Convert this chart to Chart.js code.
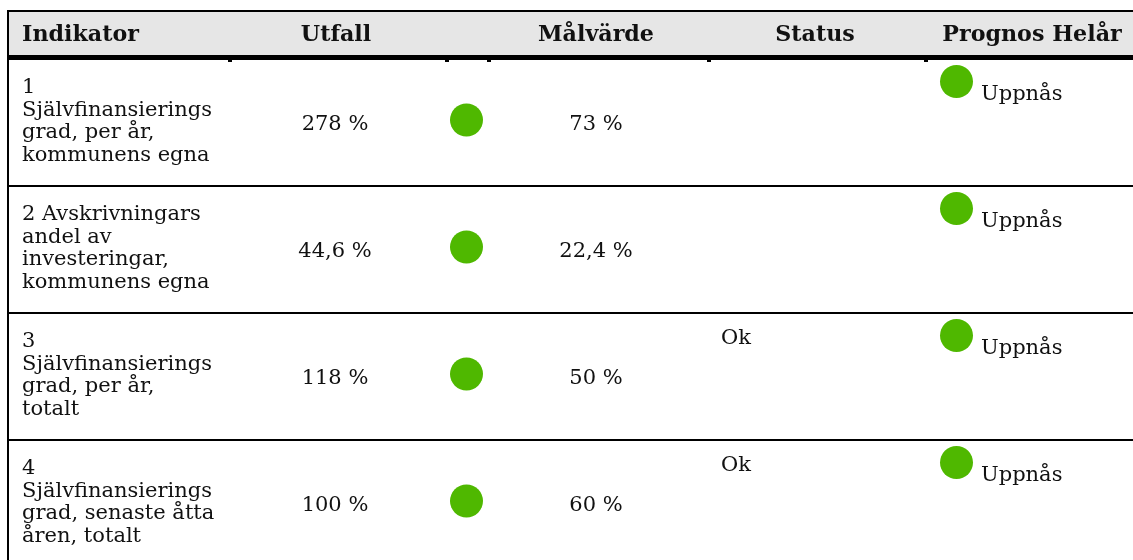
<!DOCTYPE html>
<html>
<head>
<meta charset="utf-8">
<script src="https://cdn.jsdelivr.net/npm/chart.js@4"></script>
<style>
html,body{margin:0;padding:0;background:#fff;overflow:hidden;}
canvas{display:block;}
</style>
</head>
<body>
<canvas id="c" width="1133" height="560"></canvas>
<script>
// ---- data ----
const headers = ['Indikator', 'Utfall', 'Målvärde', 'Status', 'Prognos Helår'];
const indicatorLines = [
  ['1', 'Självfinansierings', 'grad, per år,', 'kommunens egna'],
  ['2 Avskrivningars', 'andel av', 'investeringar,', 'kommunens egna'],
  ['3', 'Självfinansierings', 'grad, per år,', 'totalt'],
  ['4', 'Självfinansierings', 'grad, senaste åtta', 'åren, totalt']
];
const utfall = ['278 %', '44,6 %', '118 %', '100 %'];
const utfallStatus = ['green', 'green', 'green', 'green'];
const malvarde = ['73 %', '22,4 %', '50 %', '60 %'];
const statusText = ['', '', 'Ok', 'Ok'];
const prognosStatus = ['green', 'green', 'green', 'green'];
const prognosText = ['Uppnås', 'Uppnås', 'Uppnås', 'Uppnås'];

// ---- layout (styles / positions) ----
const W = 1133, H = 560;
const HEADER_TOP = 10, HEADER_BOTTOM = 59, ROW_H = 127;
const COL = { left: 7, indText: 22, utfallC: 335, dotC: 466.5, malC: 596, statusL: 721, progDot: 956.5, progText: 981 };
const HEAD_X = [22, 336, 596, 815, 1032];
const STUBS = [228, 445, 487, 707, 924];
const GREEN = { green: '#4fb800' };
const INK = '#111111';
const FONT = '"DejaVu Serif", Georgia, serif';

function fitSize(text, target, weight) {
  const cv = document.createElement('canvas').getContext('2d');
  cv.font = weight + ' 100px ' + FONT;
  return 100 * target / cv.measureText(text).width;
}
const BODY_SIZE = fitSize('Självfinansierings', 190, 'normal');
const HEAD_SIZE = fitSize('Målvärde', 116, 'bold');

const rows = indicatorLines.map((_, i) => i);
const dotData = rows.map(i => ({ x: COL.dotC, y: i + 0.5 - 2.5 / ROW_H }));
const progData = rows.map(i => ({ x: COL.progDot, y: i + 22.5 / ROW_H }));

const tablePlugin = {
  id: 'table',
  beforeDatasetsDraw(chart) {
    const ctx = chart.ctx;
    const ys = chart.scales.y;
    ctx.save();
    // header
    ctx.fillStyle = '#e6e6e6';
    ctx.fillRect(COL.left, HEADER_TOP, W - COL.left, HEADER_BOTTOM - HEADER_TOP);
    ctx.fillStyle = '#000';
    ctx.fillRect(COL.left, HEADER_TOP, W - COL.left, 2);
    ctx.fillRect(COL.left, 55, W - COL.left, 5);
    ctx.fillRect(COL.left, HEADER_TOP, 2, H - HEADER_TOP);
    STUBS.forEach(x => ctx.fillRect(x, 60, 4, 2));
    // row separators
    for (let i = 1; i < rows.length; i++) {
      const y = ys.getPixelForValue(i);
      ctx.fillRect(COL.left, y - 1, W - COL.left, 2);
    }
    // header text
    ctx.fillStyle = INK;
    ctx.font = 'bold ' + HEAD_SIZE + 'px ' + FONT;
    ctx.textBaseline = 'middle';
    headers.forEach((h, k) => {
      ctx.textAlign = k === 0 ? 'left' : 'center';
      ctx.fillText(h, HEAD_X[k], 35);
    });
    // body text
    ctx.font = BODY_SIZE + 'px ' + FONT;
    rows.forEach(i => {
      const top = ys.getPixelForValue(i);
      const mid = ys.getPixelForValue(i + 0.5);
      ctx.textBaseline = 'alphabetic';
      ctx.textAlign = 'left';
      indicatorLines[i].forEach((line, k) => ctx.fillText(line, COL.indText, top + 34 + k * 22.5));
      if (statusText[i]) ctx.fillText(statusText[i], COL.statusL, top + 31);
      ctx.fillText(prognosText[i], COL.progText, top + 41);
      ctx.textBaseline = 'middle';
      ctx.textAlign = 'center';
      ctx.fillText(utfall[i], COL.utfallC, mid + 2);
      ctx.fillText(malvarde[i], COL.malC, mid + 2);
    });
    ctx.restore();
  }
};

new Chart(document.getElementById('c'), {
  type: 'scatter',
  data: {
    datasets: [
      { label: 'Utfall status', data: dotData, pointRadius: 16.5, pointHoverRadius: 16.5, borderWidth: 0,
        pointBackgroundColor: utfallStatus.map(s => GREEN[s]), pointBorderWidth: 0, clip: false },
      { label: 'Prognos', data: progData, pointRadius: 16.5, pointHoverRadius: 16.5, borderWidth: 0,
        pointBackgroundColor: prognosStatus.map(s => GREEN[s]), pointBorderWidth: 0, clip: false }
    ]
  },
  options: {
    responsive: false,
    animation: false,
    events: [],
    layout: { autoPadding: false, padding: { top: HEADER_BOTTOM, left: 0, right: 0, bottom: 0 } },
    plugins: { legend: { display: false }, tooltip: { enabled: false } },
    scales: {
      x: { type: 'linear', display: false, min: 0, max: W },
      y: { type: 'linear', display: false, reverse: true, min: 0, max: (H - HEADER_BOTTOM) / ROW_H }
    }
  },
  plugins: [tablePlugin]
});
</script>
</body>
</html>
